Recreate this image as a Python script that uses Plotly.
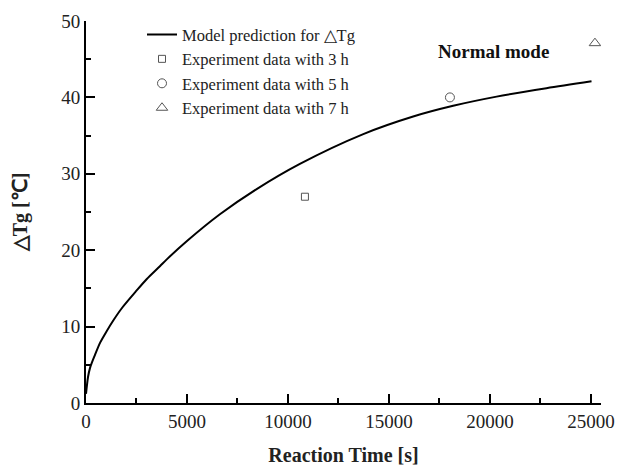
import plotly.graph_objects as go

# Model prediction curve
model_t = [0, 100, 200, 445, 700, 1000, 1350, 1800, 2500, 3000, 3660, 4000, 5000,
           6630, 8450, 10590, 13730, 16200, 18180, 20330, 22800, 25030]
model_dtg = [1.2, 3.4, 4.6, 6.3, 7.9, 9.3, 10.8, 12.5, 14.7, 16.2, 17.9, 18.8, 21.2,
             24.7, 28.0, 31.3, 35.2, 37.5, 38.9, 40.1, 41.2, 42.1]

# Experimental points
exp3_t, exp3_v = [10840], [27.0]
exp5_t, exp5_v = [18020], [40.0]
exp7_t, exp7_v = [25200], [47.1]

x_ticks = [0, 5000, 10000, 15000, 20000, 25000]
x_tick_labels = ["0", "5000", "10000", "15000", "20000", "25000"]
y_ticks = [0, 10, 20, 30, 40, 50]

FONT = "Liberation Serif"
GRAY = "#555555"

fig = go.Figure()
fig.add_trace(go.Scatter(x=model_t, y=model_dtg, mode="lines",
                         line=dict(color="black", width=2, shape="spline", smoothing=0.8),
                         name="Model prediction for △Tg"))
fig.add_trace(go.Scatter(x=exp3_t, y=exp3_v, mode="markers", name="Experiment data with 3 h",
                         marker=dict(symbol="square-open", size=7, color=GRAY, line=dict(width=1))))
fig.add_trace(go.Scatter(x=exp5_t, y=exp5_v, mode="markers", name="Experiment data with 5 h",
                         marker=dict(symbol="circle-open", size=9, color=GRAY, line=dict(width=1))))
fig.add_trace(go.Scatter(x=exp7_t, y=exp7_v, mode="markers", name="Experiment data with 7 h",
                         marker=dict(symbol="triangle-up-open", size=10, color=GRAY, line=dict(width=1))))

fig.add_annotation(text="<b>Normal mode</b>", x=(493 - 86) / 515, y=(466 - 63 - 51) / 382,
                   xref="paper", yref="paper", xanchor="center", yanchor="middle",
                   showarrow=False, font=dict(family=FONT, size=19, color="#111"))

axis_common = dict(showline=True, linecolor="black", linewidth=2, ticks="inside", ticklen=9,
                   tickwidth=2, tickcolor="black", showgrid=False, zeroline=False,
                   tickfont=dict(family=FONT, size=19, color="#222"))

fig.update_xaxes(range=[0, 25500], tickvals=x_ticks, ticktext=x_tick_labels,
                 minor=dict(ticks="inside", ticklen=5, tickwidth=2, tickcolor="black", dtick=2500, tick0=0),
                 title=dict(text="<b>Reaction Time [s]</b>", font=dict(family=FONT, size=20, color="#222"), standoff=21),
                 **axis_common)
fig.update_yaxes(range=[0, 50], tickvals=y_ticks,
                 minor=dict(ticks="inside", ticklen=5, tickwidth=2, tickcolor="black", dtick=5, tick0=0),
                 title=dict(text="<b>△Tg [℃]</b>", font=dict(family=FONT, size=20, color="#222"), standoff=28),
                 **axis_common)

fig.update_layout(
    width=617, height=466,
    margin=dict(l=86, r=16, t=21, b=63, autoexpand=False),
    plot_bgcolor="white", paper_bgcolor="white",
    showlegend=True,
    legend=dict(x=(142 - 86) / 515, y=1.01, xanchor="left", yanchor="top", bgcolor="rgba(0,0,0,0)",
                font=dict(family=FONT, size=16.5, color="#222"), tracegroupgap=0, itemwidth=30),
)

fig.write_html("out.html")
